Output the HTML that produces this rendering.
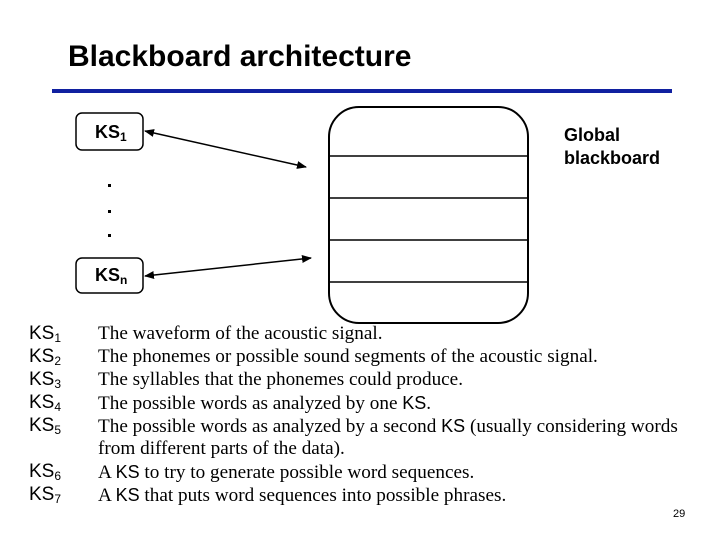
<!DOCTYPE html>
<html><head><style>
body{margin:0;width:720px;height:540px;background:#fff;position:relative;overflow:hidden}
.s{position:absolute;font-family:"Liberation Sans",sans-serif;color:#000;white-space:nowrap}
.r{position:absolute;font-family:"Liberation Serif",serif;font-size:19.2px;color:#000;white-space:nowrap;left:98px;line-height:20px}
.r span{font-size:18px}
.k{position:absolute;font-family:"Liberation Sans",sans-serif;font-size:19px;left:29px}
sub{font-size:12px;vertical-align:-3px}
</style></head><body>
<div class="s" style="left:68px;top:40px;font-size:30px;font-weight:bold">Blackboard architecture</div>
<div style="position:absolute;left:52px;top:89px;width:620px;height:4px;background:#1020a0"></div>
<svg width="720" height="540" style="position:absolute;left:0;top:0">
<defs><marker id="a" markerWidth="10" markerHeight="8" refX="9" refY="4" orient="auto-start-reverse" markerUnits="userSpaceOnUse"><path d="M0,0 L10,4 L0,8z" fill="#000"/></marker></defs>
<rect x="76" y="113" width="67" height="37" rx="6" fill="none" stroke="#000" stroke-width="1.5"/>
<rect x="76" y="258" width="67" height="35" rx="6" fill="none" stroke="#000" stroke-width="1.5"/>
<rect x="329" y="107" width="199" height="216" rx="30" fill="none" stroke="#000" stroke-width="2"/>
<g stroke="#000" stroke-width="1.5"><line x1="330" y1="156" x2="527" y2="156"/><line x1="330" y1="198" x2="527" y2="198"/><line x1="330" y1="240" x2="527" y2="240"/><line x1="330" y1="282" x2="527" y2="282"/></g>
<line x1="145" y1="131" x2="306" y2="167" stroke="#000" stroke-width="1.5" marker-start="url(#a)" marker-end="url(#a)"/>
<line x1="145" y1="276" x2="311" y2="258" stroke="#000" stroke-width="1.5" marker-start="url(#a)" marker-end="url(#a)"/>
<g fill="#000"><rect x="108" y="184" width="3" height="3"/><rect x="108" y="210" width="3" height="3"/><rect x="108" y="234" width="3" height="3"/></g>
</svg>
<div class="s" style="left:95px;top:122px;font-size:18px;font-weight:bold">KS<sub>1</sub></div>
<div class="s" style="left:95px;top:265px;font-size:18px;font-weight:bold">KS<sub>n</sub></div>
<div class="s" style="left:564px;top:124px;font-size:18px;font-weight:bold;line-height:23px">Global<br>blackboard</div>
<div class="k" style="top:323px">KS<sub>1</sub></div><div class="r" style="top:324px">The waveform of the acoustic signal.</div>
<div class="k" style="top:346px">KS<sub>2</sub></div><div class="r" style="top:347px">The phonemes or possible sound segments of the acoustic signal.</div>
<div class="k" style="top:369px">KS<sub>3</sub></div><div class="r" style="top:370px">The syllables that the phonemes could produce.</div>
<div class="k" style="top:392px">KS<sub>4</sub></div><div class="r" style="top:393px">The possible words as analyzed by one <span style="font-family:'Liberation Sans',sans-serif">KS</span>.</div>
<div class="k" style="top:415px">KS<sub>5</sub></div><div class="r" style="top:416px">The possible words as analyzed by a second <span style="font-family:'Liberation Sans',sans-serif">KS</span> (usually considering words</div>
<div class="r" style="top:439px">from different parts of the data).</div>
<div class="k" style="top:461px">KS<sub>6</sub></div><div class="r" style="top:462px">A <span style="font-family:'Liberation Sans',sans-serif">KS</span> to try to generate possible word sequences.</div>
<div class="k" style="top:484px">KS<sub>7</sub></div><div class="r" style="top:485px">A <span style="font-family:'Liberation Sans',sans-serif">KS</span> that puts word sequences into possible phrases.</div>
<div class="s" style="left:673px;top:508px;font-size:11px">29</div>
</body></html>
